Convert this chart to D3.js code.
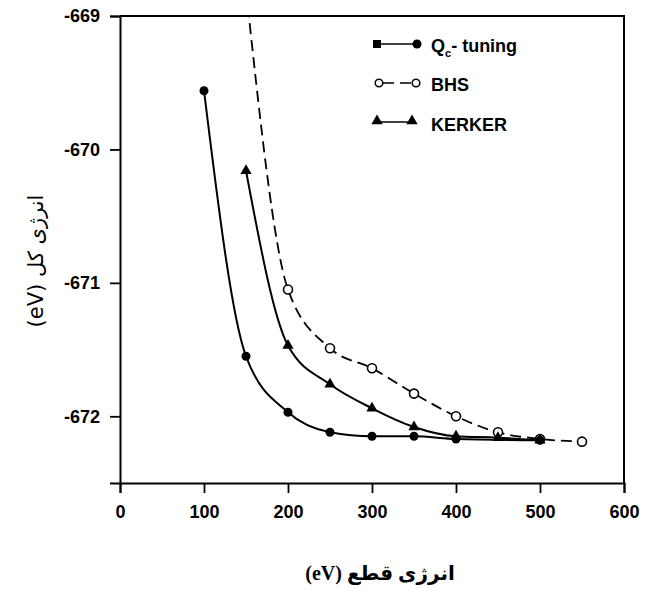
<!DOCTYPE html>
<html lang="fa">
<head>
	<meta charset="utf-8">
	<title>total energy vs cutoff</title>
	<script src="https://d3js.org/d3.v7.min.js"></script>
	<style>
		body{ margin:0; background:#fff; }
		.tick{ font-family:"Liberation Sans",Arial,sans-serif; font-weight:bold; font-size:18px; }
		.leg{ font-family:"Liberation Sans",Arial,sans-serif; font-weight:bold; font-size:18px; }
	</style>
</head>
<body>
<div id="chart"></div>

<script>
// cutoff energy (eV)
let qcX=[100,150,200,250,300,350,400,500];
let qcY=[-669.56,-671.55,-671.97,-672.12,-672.15,-672.15,-672.17,-672.18];

let bhsX=[150,200,250,300,350,400,450,500,550];
let bhsY=[-668.8,-671.05,-671.49,-671.64,-671.83,-672.00,-672.12,-672.17,-672.19];

let kerX=[150,200,250,300,350,400,450,500];
let kerY=[-670.16,-671.47,-671.76,-671.94,-672.08,-672.15,-672.16,-672.18];

let xTicks=[0,100,200,300,400,500,600];
let yTicks=[-669,-670,-671,-672];

let W=651,H=590;
let x=d3.scaleLinear().domain([0,600]).range([120,624]);
let y=d3.scaleLinear().domain([-672.5,-669]).range([483,16]);

let svg=d3.select("#chart").append("svg").attr("width",W).attr("height",H);

svg.append("clipPath").attr("id","plot")
	.append("rect").attr("x",120).attr("y",16).attr("width",504).attr("height",467);

// frame top + right
svg.append("line").attr("x1",120).attr("x2",625).attr("y1",16).attr("y2",16)
	.attr("stroke","#000").attr("stroke-width",2);
svg.append("line").attr("x1",624).attr("x2",624).attr("y1",16).attr("y2",483)
	.attr("stroke","#000").attr("stroke-width",2);

// axes
let xAxis=svg.append("g").attr("transform","translate(0,483)")
	.call(d3.axisBottom(x).tickValues(xTicks).tickSize(10).tickPadding(12).tickFormat(d3.format("d")));
let yAxis=svg.append("g").attr("transform","translate(120,0)")
	.call(d3.axisLeft(y).tickValues(yTicks).tickSize(10).tickPadding(10).tickFormat(d=>"-"+Math.abs(d)));
[xAxis,yAxis].forEach(a=>{
	a.select(".domain").attr("stroke-width",2);
	a.selectAll(".tick line").attr("stroke-width",1.8);
	a.selectAll("text").attr("class","tick").attr("fill","#000");
});

// data lines
let line=d3.line().x(d=>x(d[0])).y(d=>y(d[1])).curve(d3.curveMonotoneX);
let g=svg.append("g").attr("clip-path","url(#plot)");

let qc=d3.zip(qcX,qcY), bhs=d3.zip(bhsX,bhsY), ker=d3.zip(kerX,kerY);

g.append("path").datum(bhs).attr("d",line).attr("fill","none")
	.attr("stroke","#000").attr("stroke-width",1.8).attr("stroke-dasharray","11,6");
g.append("path").datum(ker).attr("d",line).attr("fill","none")
	.attr("stroke","#000").attr("stroke-width",2);
g.append("path").datum(qc).attr("d",line).attr("fill","none")
	.attr("stroke","#000").attr("stroke-width",2);

let tri=d3.symbol().type(d3.symbolTriangle).size(55);

g.selectAll("circle.bhs").data(bhs).enter().append("circle")
	.attr("cx",d=>x(d[0])).attr("cy",d=>y(d[1])).attr("r",4.5)
	.attr("fill","#fff").attr("stroke","#000").attr("stroke-width",1.6);
g.selectAll("path.ker").data(ker).enter().append("path")
	.attr("d",tri).attr("transform",d=>"translate("+x(d[0])+","+y(d[1])+")").attr("fill","#000");
g.selectAll("circle.qc").data(qc).enter().append("circle")
	.attr("cx",d=>x(d[0])).attr("cy",d=>y(d[1])).attr("r",4.5).attr("fill","#000");

// legend
let lg=svg.append("g");
lg.append("line").attr("x1",377).attr("x2",417).attr("y1",44).attr("y2",44).attr("stroke","#000").attr("stroke-width",1.5);
lg.append("rect").attr("x",373).attr("y",40).attr("width",8).attr("height",8).attr("fill","#000");
lg.append("circle").attr("cx",417).attr("cy",44).attr("r",4.5).attr("fill","#000");
let t1=lg.append("text").attr("class","leg").attr("x",431).attr("y",52);
t1.append("tspan").text("Q");
t1.append("tspan").attr("font-size",11).attr("dy",5).text("c");
t1.append("tspan").attr("dy",-5).text("- tuning");

lg.append("line").attr("x1",383).attr("x2",412).attr("y1",83).attr("y2",83).attr("stroke","#000")
	.attr("stroke-width",1.5).attr("stroke-dasharray","11,6");
lg.append("circle").attr("cx",379).attr("cy",83).attr("r",3.8).attr("fill","#fff").attr("stroke","#000").attr("stroke-width",1.5);
lg.append("circle").attr("cx",416).attr("cy",83).attr("r",3.8).attr("fill","#fff").attr("stroke","#000").attr("stroke-width",1.5);
lg.append("text").attr("class","leg").attr("x",431).attr("y",91).text("BHS");

lg.append("line").attr("x1",377).attr("x2",412).attr("y1",122).attr("y2",122).attr("stroke","#000").attr("stroke-width",1.5);
lg.append("path").attr("d",tri).attr("transform","translate(377,121)").attr("fill","#000");
lg.append("path").attr("d",tri).attr("transform","translate(412,121)").attr("fill","#000");
lg.append("text").attr("class","leg").attr("x",431).attr("y",131).text("KERKER");

// axis titles
svg.append("text").attr("x",380).attr("y",580).attr("text-anchor","middle")
	.attr("direction","rtl")
	.style("font-family","'Liberation Serif','DejaVu Sans',serif").style("font-weight","bold").style("font-size","20px")
	.text("انرژی قطع (eV)");
svg.append("text").attr("transform","translate(43,261) rotate(-90)").attr("text-anchor","middle")
	.attr("direction","rtl")
	.style("font-family","'DejaVu Sans',sans-serif").style("font-size","21px")
	.text("انرژی کل   (eV)");
</script>
</body>
</html>
